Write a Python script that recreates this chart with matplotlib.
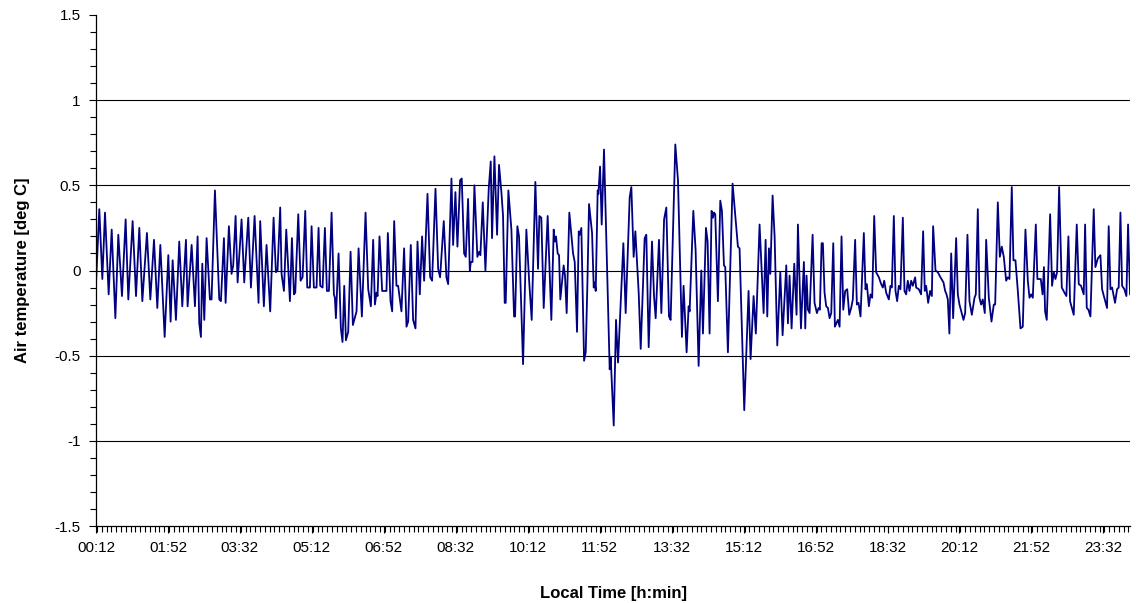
import matplotlib
matplotlib.use("Agg")
import matplotlib.pyplot as plt
from matplotlib.ticker import MultipleLocator

# Minutes since midnight (local time) and air temperature deviation [deg C]
minutes = [
    12, 16.6, 20.8, 24.5, 29.6, 33.8, 38.9, 43.0, 48.1, 53.2, 56.9, 62.9,
    67.6, 72.2, 76.4, 82.8, 87.5, 92.6, 97.2, 101.4, 107.4, 112.5, 115.7,
    118.5, 123.1, 127.7, 131.9, 137.0,
    139.3, 144.9, 149.5, 153.2, 155.5, 157.8, 159.7, 162.5, 165.7, 170.3,
    172.6, 177.3, 183.3, 185.6, 189.8, 192.1, 196.7, 200.4, 202.7, 206.0,
    208.8, 214.3, 218.0, 223.6, 227.3, 232.4, 237.9, 240.2, 245.3, 249.0,
    254.1, 258.8, 262.0, 264.3, 268.0,
    269.9, 273.2, 276.4, 281.5, 284.3, 287.1, 288.9, 293.1, 296.3, 299.1,
    302.8, 305.6, 309.3, 311.6, 314.8, 318.5, 321.3, 323.6, 326.9, 330.1,
    332.9, 335.7, 339.4, 342.6, 344.0, 345.4, 349.1, 352.3, 354.6, 357.0,
    359.3, 362.5, 365.8, 369.0, 374.1, 376.9, 381.5, 386.6, 390.3, 394.0,
    397.2, 399.6, 401.9, 403.3, 406.0,
    409.7, 415.7, 417.6, 421.3, 423.6, 426.4, 429.6, 431.9, 436.5, 440.2,
    443.5, 445.8, 449.5, 452.7, 456.0, 458.8, 462.0, 465.2, 468.0, 472.7,
    476.4, 479.1, 483.8, 487.5, 490.2, 495.3, 499.0, 501.4, 506.0, 508.3,
    511.5, 514.3, 518.0, 520.3, 523.6, 525.9, 529.1, 531.5, 532.9, 535.2,
    537.9,
    542.0, 544.4, 546.2, 549.5, 553.2, 557.8, 560.6, 562.4, 565.7, 569.4,
    572.1, 575.4, 577.7, 580.0, 581.4, 585.1, 587.9, 589.3, 593.0, 594.4,
    597.6, 599.9, 605.5, 610.1, 613.8, 617.5, 622.6, 626.3, 628.2, 630.9,
    634.2, 639.7, 644.8, 648.1, 649.5, 651.3, 653.6, 655.5, 657.3, 661.9,
    663.8, 666.1, 669.8,
    675.0, 677.3, 680.5, 682.9, 684.2, 686.5, 690.3, 692.6, 694.9, 697.2,
    701.4, 703.7, 705.1, 706.5, 709.2, 710.2, 712.5, 714.8, 718.0, 725.9,
    727.3, 731.5, 734.7, 737.5, 744.9, 748.1, 753.7, 756.0, 759.2, 761.6,
    766.2, 769.0, 774.5, 776.8, 780.1, 784.7, 787.5, 789.8, 794.4, 797.7,
    801.5, 804.6,
    808.3, 810.6, 817.1, 820.8, 826.3, 828.6, 832.8, 835.6, 837.0, 842.1,
    845.3, 849.5, 853.2, 855.5, 859.7, 862.0, 864.7, 867.5, 869.4, 870.8,
    872.6, 876.3, 879.6, 881.9, 884.7, 886.5, 890.2, 896.7, 899.9, 901.8,
    904.1, 906.4, 912.9, 918.9, 921.7, 925.9, 929.0,
    934.2, 939.8, 942.6, 944.9, 947.2, 949.1, 952.3, 955.1, 958.8, 963.0,
    966.2, 971.3, 973.6, 975.9, 978.7, 982.4, 985.6, 987.5, 991.7, 995.8,
    997.7, 999.5, 1001.4, 1003.7, 1007.9, 1010.6, 1013.9, 1016.2, 1018.0,
    1020.4, 1022.2, 1024.5, 1026.8, 1029.2, 1031.5, 1033.8, 1036.6, 1038.9,
    1043.0, 1045.4, 1048.1, 1050.5, 1053.2, 1056.0, 1058.8, 1061.5, 1063.8,
    1067.0,
    1069.4, 1071.7, 1074.5, 1079.1, 1081.4, 1083.3, 1086.1, 1088.4, 1090.7,
    1093.5, 1096.2, 1100.0, 1103.2, 1105.5, 1107.4, 1110.1, 1113.8, 1116.1,
    1118.0, 1120.8, 1123.1, 1125.4, 1127.7, 1130.0, 1133.3, 1135.6, 1137.9,
    1140.2, 1142.5, 1144.9, 1147.2, 1150.4, 1151.8, 1155.5, 1158.7, 1161.5,
    1163.8, 1165.7, 1168.5, 1171.2, 1173.6, 1175.4, 1178.7, 1181.9, 1185.6,
    1189.8, 1192.1, 1194.0, 1195.8, 1198.0,
    1200.5, 1203.2, 1207.4, 1209.7, 1212.0, 1217.6, 1219.9, 1223.1, 1225.9,
    1229.2, 1232.9, 1234.7, 1237.5, 1239.8, 1242.1, 1244.4, 1247.2, 1249.1,
    1252.8, 1256.5, 1259.7, 1261.6, 1265.3, 1268.1, 1270.8, 1273.6, 1276.9,
    1279.2, 1281.5, 1284.7, 1287.0, 1289.8, 1293.1, 1296.8, 1300.0, 1303.7,
    1307.0, 1309.3, 1311.6, 1313.9, 1318.1, 1320.3, 1325.0, 1327.5, 1329.4,
    1331.0, 1333.3, 1338.0, 1340.7, 1343.1, 1345.4, 1347.7, 1350.5, 1354.2,
    1357.9, 1360.6, 1363.4, 1365.7, 1370.8, 1375.0, 1377.8, 1381.0, 1384.7,
    1386.6, 1388.9, 1391.2, 1394.0, 1398.6, 1400.9, 1404.2, 1407.9, 1410.2,
    1413.4, 1417.1, 1419.4, 1421.8, 1424.1, 1428.2, 1431.0, 1433.3, 1435.7,
    1438.0, 1441.2, 1444.0, 1446.3, 1449.1,
]

temperature = [
    -0.08, 0.36, -0.05, 0.34, -0.14, 0.24, -0.28, 0.21, -0.15, 0.30, -0.17,
    0.29, -0.15, 0.25, -0.18, 0.22, -0.17, 0.18, -0.22, 0.15, -0.39, 0.09,
    -0.30, 0.06, -0.29, 0.17, -0.21, 0.18,
    -0.21, 0.15, -0.21, 0.20, -0.31, -0.39, 0.04, -0.29, 0.19, -0.17,
    -0.17, 0.47, -0.17, -0.18, 0.19, -0.19, 0.26, -0.02, 0.03, 0.32,
    -0.07, 0.30, -0.07, 0.31, -0.10, 0.32, -0.19, 0.29, -0.21, 0.15,
    -0.24, 0.31, -0.01, 0.0, 0.37,
    -0.02, -0.12, 0.24, -0.18, 0.19, -0.14, -0.13, 0.33, -0.06, -0.04,
    0.35, -0.10, -0.10, 0.26, -0.10, -0.10, 0.25, -0.09, -0.10, 0.25,
    -0.12, -0.12, 0.34, -0.14, -0.16, -0.28, 0.10, -0.34, -0.42, -0.09,
    -0.41, -0.36, 0.11, -0.32, -0.24, 0.13, -0.27, 0.34, -0.11, -0.21,
    0.18, -0.20, -0.13, -0.15, 0.20,
    -0.12, -0.12, 0.22, -0.18, -0.24, 0.29, -0.09, -0.09, -0.24, 0.13,
    -0.33, -0.30, 0.15, -0.29, -0.34, 0.17, -0.14, 0.20, -0.06, 0.45,
    -0.04, -0.06, 0.48, 0.01, -0.04, 0.29, -0.04, -0.08, 0.54, 0.15,
    0.46, 0.14, 0.53, 0.54, 0.10, 0.08, 0.42, 0.0, 0.05, 0.05,
    0.50,
    0.08, 0.11, 0.09, 0.40, 0.0, 0.48, 0.64, 0.19, 0.67, 0.21,
    0.62, 0.46, 0.32, -0.19, -0.19, 0.47, 0.32, 0.24, -0.27, -0.27,
    0.26, 0.20, -0.55, 0.24, -0.05, -0.29, 0.52, 0.01, 0.32, 0.31,
    -0.22, 0.32, -0.29, 0.24, 0.17, 0.20, 0.10, 0.09, -0.17, 0.03,
    -0.03, -0.25, 0.34,
    0.10, 0.05, -0.36, 0.23, 0.21, 0.25, -0.53, -0.48, -0.08, 0.39,
    0.22, -0.10, -0.07, -0.12, 0.47, 0.45, 0.61, 0.27, 0.71, -0.58,
    -0.51, -0.91, -0.29, -0.54, 0.16, -0.25, 0.43, 0.49, 0.08, 0.23,
    -0.13, -0.46, 0.19, 0.21, -0.45, 0.17, -0.15, -0.28, 0.18, -0.25,
    0.30, 0.37,
    -0.27, -0.29, 0.74, 0.53, -0.39, -0.09, -0.48, -0.21, -0.24, 0.35,
    0.12, -0.56, 0.0, -0.37, 0.25, 0.17, -0.37, 0.35, 0.31, 0.34,
    0.33, -0.18, 0.41, 0.35, 0.03, 0.02, -0.48, 0.51, 0.35, 0.26,
    0.14, 0.13, -0.82, -0.12, -0.52, -0.15, -0.37,
    0.27, -0.25, 0.18, -0.27, 0.13, -0.02, 0.44, 0.20, -0.44, -0.01,
    -0.38, 0.03, -0.31, -0.03, -0.34, 0.04, -0.26, 0.27, -0.34, 0.05,
    -0.34, -0.03, -0.23, -0.25, 0.21, -0.19, -0.25, -0.22, -0.23,
    0.16, 0.16, -0.13, -0.21, -0.22, -0.28, -0.25, 0.16, -0.33,
    -0.29, -0.33, 0.20, -0.23, -0.12, -0.11, -0.26, -0.22, -0.17,
    0.18,
    -0.20, -0.19, -0.27, 0.22, -0.11, -0.08, -0.21, -0.14, -0.16,
    0.32, -0.01, -0.04, -0.08, -0.10, -0.06, -0.13, -0.17, -0.09,
    -0.10, 0.32, -0.12, -0.18, -0.09, -0.11, 0.31, -0.12, -0.14,
    -0.06, -0.12, -0.06, -0.09, -0.04, -0.10, -0.11, -0.14, 0.23,
    -0.12, -0.09, -0.19, -0.12, -0.15, 0.26, 0.0, -0.01, -0.04,
    -0.07, -0.12, -0.14, -0.17, -0.37,
    0.10, -0.28, 0.19, -0.14, -0.20, -0.29, -0.25, 0.21, -0.18,
    -0.26, -0.16, -0.14, 0.36, -0.16, -0.20, -0.17, -0.25, 0.18,
    -0.16, -0.30, -0.20, -0.20, 0.40, 0.08, 0.14, 0.08, -0.06,
    -0.04, -0.05, 0.49, 0.06, 0.06, -0.12, -0.34, -0.33, 0.24,
    -0.06, -0.16, -0.14, -0.16, 0.27, -0.05, -0.05, -0.14, 0.02,
    -0.24, -0.29, 0.33, -0.09, -0.01, -0.05, -0.01, 0.49, -0.10,
    -0.13, -0.15, 0.20, -0.18, -0.26, 0.27, -0.08, -0.09, -0.14,
    0.27, -0.22, -0.23, -0.27, 0.36, 0.02, 0.07, 0.09, -0.11,
    -0.16, -0.22, 0.26, -0.11, -0.10, -0.19, -0.11, -0.10, 0.34,
    -0.09, -0.11, -0.15, 0.27, -0.14,
]

# Category-axis labels every 100 minutes starting at 00:12
tick_minutes = [12, 112, 212, 312, 412, 512, 612, 712, 812, 912, 1012,
                1112, 1212, 1312, 1412]
tick_labels = ['00:12', '01:52', '03:32', '05:12', '06:52', '08:32',
               '10:12', '11:52', '13:32', '15:12', '16:52', '18:32',
               '20:12', '21:52', '23:32']
y_ticks = [-1.5, -1, -0.5, 0, 0.5, 1, 1.5]
y_tick_labels = ['-1.5', '-1', '-0.5', '0', '0.5', '1', '1.5']
grid_levels = [-1, -0.5, 0, 0.5, 1]

plt.rcParams['font.family'] = ['Liberation Sans', 'DejaVu Sans']

fig = plt.figure(figsize=(11.36, 6.03), dpi=100)
ax = fig.add_axes([96 / 1136, 1 - 526 / 603, 1034 / 1136, 511 / 603])

for level in grid_levels:
    ax.axhline(level, color='black', linewidth=0.8, zorder=1)

ax.plot(minutes, temperature, color='#000080', linewidth=1.3, zorder=2)

ax.set_xlim(12, 1449)
ax.set_ylim(-1.5, 1.5)

ax.set_xticks(tick_minutes, labels=tick_labels)
ax.xaxis.set_minor_locator(MultipleLocator(100 / 15))
ax.set_yticks(y_ticks, labels=y_tick_labels)
ax.yaxis.set_minor_locator(MultipleLocator(0.1))

ax.tick_params(axis='both', which='both', direction='out', color='black',
               width=0.8, labelsize=11)
ax.tick_params(axis='both', which='major', length=5, pad=6)
ax.tick_params(axis='both', which='minor', length=4)

for side in ['top', 'right']:
    ax.spines[side].set_visible(False)
for side in ['left', 'bottom']:
    ax.spines[side].set_linewidth(0.9)

ax.set_xlabel('Local Time [h:min]', fontsize=12, fontweight='bold',
              labelpad=22)
ax.set_ylabel('Air temperature [deg C]', fontsize=12, fontweight='bold',
              labelpad=18)

fig.savefig('out.png', dpi=100)
